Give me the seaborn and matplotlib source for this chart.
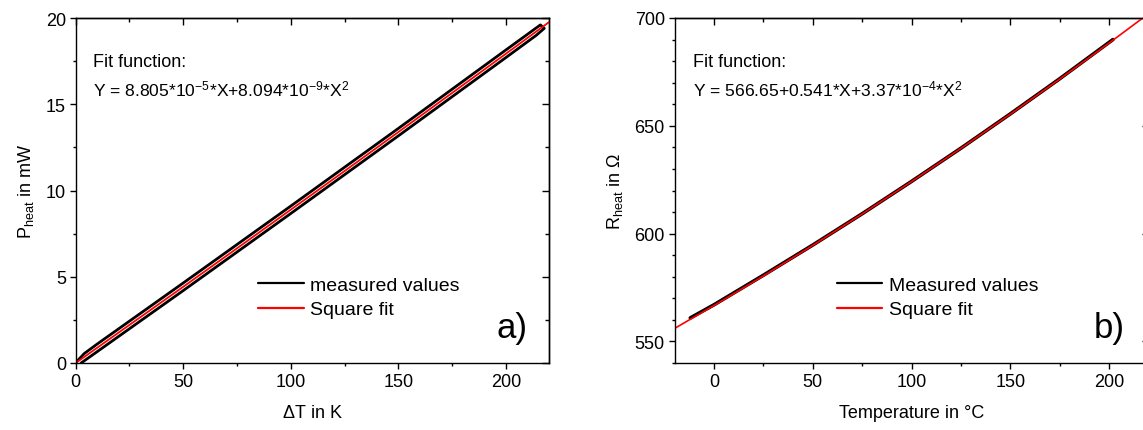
import matplotlib
matplotlib.use("Agg")
import pandas as pd
import matplotlib.pyplot as plt
import seaborn as sns
from matplotlib.ticker import MultipleLocator

# panel a: heating power vs temperature difference
# measured values form a thin loop (up branch, then back down)
dT_meas = [0, 4, 10, 50, 100, 150, 200, 216, 217.8, 214, 200, 150, 100, 50, 10, 4, 2.5]
p_meas = [0.02, 0.55, 1.1, 4.64, 9.1, 13.6, 18.15, 19.6, 19.4, 18.99, 17.71, 13.17, 8.67, 4.2, 0.66, 0.13, 0.0]
dT_fit = [0, 25, 50, 75, 100, 125, 150, 175, 200, 220]
p_fit = [0.0, 2.21, 4.42, 6.65, 8.89, 11.13, 13.39, 15.66, 17.93, 19.76]

# panel b: heater resistance vs temperature
t_meas = [-12, 0, 25, 50, 75, 100, 125, 150, 175, 202]
r_meas = [560.9, 567.0, 580.7, 594.7, 609.2, 624.2, 639.6, 655.5, 671.8, 690.0]
t_fit = [-20, 0, 25, 50, 75, 100, 125, 150, 175, 200, 220]
r_fit = [556.0, 566.65, 580.39, 594.54, 609.12, 624.12, 639.54, 655.38, 671.65, 688.33, 701.98]

sns.set_theme(style="ticks")
plt.rcParams["font.family"] = ["Liberation Sans", "DejaVu Sans"]
plt.rcParams["mathtext.fontset"] = "custom"
plt.rcParams["mathtext.rm"] = "Liberation Sans"
plt.rcParams["mathtext.it"] = "Liberation Sans:italic"
plt.rcParams["axes.linewidth"] = 1.0
plt.rcParams["axes.edgecolor"] = "black"
plt.rcParams["text.color"] = "black"
plt.rcParams["axes.labelcolor"] = "black"
plt.rcParams["xtick.color"] = "black"
plt.rcParams["ytick.color"] = "black"

RED = "#ff0000"
W, H = 1143, 431

fig = plt.figure(figsize=(W / 100, H / 100), dpi=100)
ax_a = fig.add_axes([75.7 / W, 67 / H, (549 - 75.7) / W, 345 / H])
ax_b = fig.add_axes([674.5 / W, 67 / H, (1148.5 - 674.5) / W, 345 / H])

df_a_meas = pd.DataFrame({"x": dT_meas, "y": p_meas})
df_a_fit = pd.DataFrame({"x": dT_fit, "y": p_fit})
df_b_meas = pd.DataFrame({"x": t_meas, "y": r_meas})
df_b_fit = pd.DataFrame({"x": t_fit, "y": r_fit})

sns.lineplot(data=df_a_meas, x="x", y="y", sort=False, estimator=None, color="black",
             lw=2.0, label="measured values", ax=ax_a)
sns.lineplot(data=df_a_fit, x="x", y="y", sort=False, estimator=None, color=RED,
             lw=1.3, label="Square fit", ax=ax_a)
sns.lineplot(data=df_b_meas, x="x", y="y", sort=False, estimator=None, color="black",
             lw=2.6, label="Measured values", ax=ax_b)
sns.lineplot(data=df_b_fit, x="x", y="y", sort=False, estimator=None, color=RED,
             lw=1.2, label="Square fit", ax=ax_b)


def style_axes(ax, xlim, ylim, xmaj, xmin, ymaj, ymin):
    ax.set_xlim(*xlim)
    ax.set_ylim(*ylim)
    ax.xaxis.set_major_locator(MultipleLocator(xmaj))
    ax.xaxis.set_minor_locator(MultipleLocator(xmin))
    ax.yaxis.set_major_locator(MultipleLocator(ymaj))
    ax.yaxis.set_minor_locator(MultipleLocator(ymin))
    ax.tick_params(which="major", direction="out", length=4.5, width=1.0,
                   labelsize=13, color="black")
    ax.tick_params(which="minor", direction="out", length=2.5, width=1.0, color="black")
    ax.tick_params(axis="y", which="major", pad=2.5)
    ax.tick_params(axis="x", which="major", pad=2.5)
    for s in ax.spines.values():
        s.set_visible(True)
        s.set_color("black")
    # inward ticks on top and right, no labels
    top = ax.secondary_xaxis("top")
    top.xaxis.set_major_locator(MultipleLocator(xmaj))
    top.xaxis.set_minor_locator(MultipleLocator(xmin))
    top.tick_params(which="major", direction="in", length=5, width=1.0, labeltop=False)
    top.tick_params(which="minor", direction="in", length=3, width=1.0)
    right = ax.secondary_yaxis("right")
    right.yaxis.set_major_locator(MultipleLocator(ymaj))
    right.yaxis.set_minor_locator(MultipleLocator(ymin))
    right.tick_params(which="major", direction="in", length=5, width=1.0, labelright=False)
    right.tick_params(which="minor", direction="in", length=3, width=1.0)


style_axes(ax_a, (0, 220), (0, 20), 50, 25, 5, 2.5)
style_axes(ax_b, (-20, 220), (540, 700), 50, 25, 50, 10)

ax_a.set_xlabel(r"$\Delta$T in K", fontsize=13, labelpad=10)
ax_a.set_ylabel(r"P$_{\mathrm{heat}}$ in mW", fontsize=13, labelpad=7)
ax_b.set_xlabel("Temperature in °C", fontsize=13, labelpad=10)
ax_b.set_ylabel(r"R$_{\mathrm{heat}}$ in $\Omega$", fontsize=13, labelpad=7)

ax_a.text(0.036, 0.862, "Fit function:", transform=ax_a.transAxes, fontsize=13, va="baseline")
ax_a.text(0.036, 0.777,
          r"Y = 8.805*10$^{\mathrm{-5}}$*X+8.094*10$^{\mathrm{-9}}$*X$^{\mathrm{2}}$",
          transform=ax_a.transAxes, fontsize=12.6, va="baseline")
ax_b.text(0.040, 0.862, "Fit function:", transform=ax_b.transAxes, fontsize=13, va="baseline")
ax_b.text(0.040, 0.777,
          r"Y = 566.65+0.541*X+3.37*10$^{\mathrm{-4}}$*X$^{\mathrm{2}}$",
          transform=ax_b.transAxes, fontsize=12.6, va="baseline")

ax_a.text(0.89, 0.075, "a)", transform=ax_a.transAxes, fontsize=25, va="baseline")
ax_b.text(0.885, 0.075, "b)", transform=ax_b.transAxes, fontsize=25, va="baseline")

for ax, x0 in ((ax_a, 0.385), (ax_b, 0.342)):
    leg = ax.legend(loc="center left", bbox_to_anchor=(x0, 0.19), frameon=False,
                    fontsize=14, handlelength=2.35, handletextpad=0.35,
                    borderpad=0, borderaxespad=0, labelspacing=0.35)
    for line in leg.get_lines():
        line.set_linewidth(1.6)

fig.savefig("out.png", dpi=100)
